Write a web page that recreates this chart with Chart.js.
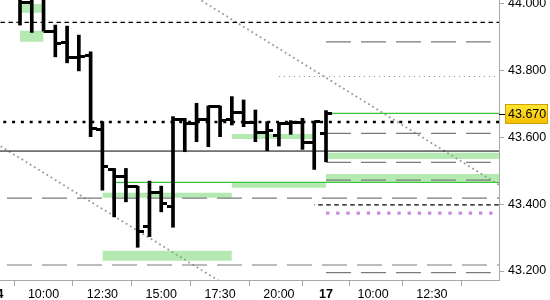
<!DOCTYPE html>
<html>
<head>
<meta charset="utf-8">
<script src="https://cdn.jsdelivr.net/npm/chart.js@4.4.1/dist/chart.umd.min.js"></script>
<style>
  html, body { margin: 0; padding: 0; background: #fff; }
</style>
</head>
<body>
<canvas id="myCanvas" width="550" height="300"></canvas>
<script>
// time is in session hours counted from 08:00 on day 14 (day 17 opens at 14)
const barTimes = [1, 1.5, 2, 2.5, 3, 3.5, 4, 4.5, 5, 5.5, 6, 6.5, 7, 7.5, 8, 8.5, 9, 9.5, 10, 10.5, 11, 11.5, 12, 12.5, 13, 13.5, 14];
const opens  = [44.020, 44.003, 44.020, 43.918, 43.883, 43.840, 43.844, 43.625, 43.504, 43.482, 43.452, 43.333, 43.434, 43.392, 43.654, 43.642, 43.654, 43.692, 43.654, 43.674, 43.644, 43.614, 43.607, 43.642, 43.644, 43.584, 43.611];
const highs  = [44.030, 44.030, 44.040, 43.936, 43.933, 43.906, 43.856, 43.647, 43.507, 43.507, 43.454, 43.469, 43.454, 43.662, 43.657, 43.702, 43.694, 43.694, 43.722, 43.712, 43.682, 43.647, 43.644, 43.650, 43.657, 43.647, 43.680];
const lows   = [43.936, 43.914, 43.918, 43.841, 43.823, 43.799, 43.602, 43.442, 43.362, 43.407, 43.271, 43.303, 43.377, 43.331, 43.557, 43.587, 43.572, 43.602, 43.637, 43.632, 43.587, 43.560, 43.574, 43.609, 43.564, 43.504, 43.527];
const closes = [44.003, 44.020, 43.918, 43.881, 43.840, 43.841, 43.627, 43.512, 43.482, 43.452, 43.318, 43.434, 43.403, 43.654, 43.642, 43.654, 43.692, 43.650, 43.674, 43.644, 43.614, 43.620, 43.642, 43.644, 43.584, 43.647, 43.670];
const lastPrice = 43.670;

const timeTicks  = [2, 4.5, 7, 9.5, 12, 14, 16, 18.5, 21];
const timeLabels = ['10:00', '12:30', '15:00', '17:30', '20:00', '17', '10:00', '12:30', ''];
const dayLabels  = ['14', '17'];
const firstDay = { time: 0, label: '14' }; // sits just left of the view
const priceTicks = [43.2, 43.4, 43.6, 43.8, 44.0];
const timeMin = 0.15, timeMax = 21.35;
const priceMin = 43.1731, priceMax = 44.0111;

// horizontal levels: [price, from, to]
const blackDashed   = [[43.944, 0, 21.35], [43.398, 13.5, 21.35]];
const blackDotted   = [[43.646, 0, 21.35]];
const blackSolid    = [[43.559, 0, 21.35]];
const grayDashedAll = [[43.418, 0, 21.35], [43.218, 0, 21.35]];
const grayDashedNew = [[43.886, 14, 21], [43.612, 14, 21], [43.525, 14, 21], [43.472, 14, 21], [43.195, 14, 21]];
const grayDotted    = [[43.782, 12, 21.2]];
const greenLines    = [[43.465, 5, 21.35], [43.672, 14, 21.35]];
const purpleDotted  = [[43.373, 14, 21.35]];
// trend channel: [fromTime, fromPrice, toTime, toPrice]
const trendLines = [[8, 44.040, 21.35, 43.458], [0, 43.581, 10, 43.147]];
// green zones
const zoneTop    = [43.999, 43.919, 43.434, 43.261, 43.464, 43.610, 43.554, 43.490];
const zoneBottom = [43.973, 43.886, 43.419, 43.231, 43.449, 43.595, 43.535, 43.467];
const zoneFrom   = [1, 1, 4.5, 4.5, 10, 10, 14, 14];
const zoneTo     = [2, 2, 10, 10, 14, 13.5, 21.35, 21.35];

const labelFont = { family: '"Liberation Sans", Arial, sans-serif', size: 12.5 };
const boldFont = Object.assign({ weight: 'bold' }, labelFont);

// small images for the open (left) and close (right) ticks
function makeTick(side) {
  const c = document.createElement('canvas');
  c.width = 12; c.height = 3;
  const g = c.getContext('2d');
  g.fillStyle = '#000';
  g.fillRect(side === 'left' ? 0 : 6, 0, 6, 3);
  return c;
}
const openTick = makeTick('left');
const closeTick = makeTick('right');

function levelSets(list, style) {
  return list.map(l => Object.assign({
    type: 'line',
    data: [{ x: l[1], y: l[0] }, { x: l[2], y: l[0] }],
    pointRadius: 0,
    fill: false,
    order: 1
  }, style));
}

const datasets = [];

datasets.push({
  type: 'bar',
  data: barTimes.map((t, i) => ({ x: t, y: [lows[i], highs[i]] })),
  backgroundColor: '#000',
  barThickness: 3,
  grouped: false,
  order: 0
});
datasets.push({
  type: 'line', showLine: false,
  data: barTimes.map((t, i) => ({ x: t, y: opens[i] })),
  pointStyle: openTick, pointRadius: 6, order: 0
});
datasets.push({
  type: 'line', showLine: false,
  data: barTimes.map((t, i) => ({ x: t, y: closes[i] })),
  pointStyle: closeTick, pointRadius: 6, order: 0
});

datasets.push(...levelSets(blackDashed, { borderColor: '#000', borderWidth: 1.2, borderDash: [4.5, 3.5], borderDashOffset: 4 }));
datasets.push(...levelSets(blackDotted, { borderColor: '#000', borderWidth: 2.6, borderDash: [3, 5.8], borderDashOffset: 2 }));
datasets.push(...levelSets(blackSolid, { borderColor: '#000', borderWidth: 1 }));
datasets.push(...levelSets(grayDashedAll, { borderColor: '#7a7a7a', borderWidth: 1.2, borderDash: [25, 10], borderDashOffset: 24.5 }));
datasets.push(...levelSets(grayDashedNew, { borderColor: '#7a7a7a', borderWidth: 1.2, borderDash: [25, 10] }));
datasets.push(...levelSets(grayDotted, { borderColor: '#8c8c8c', borderWidth: 1, borderDash: [1, 4] }));
datasets.push(...levelSets(greenLines, { borderColor: '#3cc43c', borderWidth: 1.3 }));
datasets.push(...levelSets(purpleDotted, { borderColor: '#c98be0', borderWidth: 3.3, borderDash: [3.3, 6.9] }));

trendLines.forEach(t => {
  datasets.push({
    type: 'line',
    data: [{ x: t[0], y: t[1] }, { x: t[2], y: t[3] }],
    borderColor: '#999',
    borderWidth: 1.8,
    borderDash: [1.8, 3.1],
    pointRadius: 0,
    order: 1
  });
});

zoneTop.forEach((top, i) => {
  datasets.push({
    type: 'line',
    data: [{ x: zoneFrom[i], y: top }, { x: zoneTo[i], y: top }],
    borderWidth: 0,
    pointRadius: 0,
    backgroundColor: 'rgb(180,233,178)',
    fill: { value: zoneBottom[i] },
    order: 2
  });
});

// yellow box with the last price on the right axis, and the cut-off day label on the left
const priceTag = {
  id: 'priceTag',
  afterDraw(chart) {
    const { ctx, chartArea, scales } = chart;
    const py = Math.round(scales.y.getPixelForValue(lastPrice));
    const x0 = chartArea.right;
    ctx.save();
    ctx.strokeStyle = '#000';
    ctx.lineWidth = 1;
    ctx.beginPath();
    ctx.moveTo(x0, py + 0.5);
    ctx.lineTo(x0 + 6, py + 0.5);
    ctx.stroke();
    const grad = ctx.createLinearGradient(0, py - 10, 0, py + 10);
    grad.addColorStop(0, '#ffe735');
    grad.addColorStop(1, '#f4bf00');
    ctx.fillStyle = grad;
    ctx.fillRect(x0 + 6, py - 10, 43, 20);
    ctx.strokeStyle = '#d2a000';
    ctx.strokeRect(x0 + 6.5, py - 9.5, 42, 19);
    ctx.fillStyle = '#000';
    ctx.font = '12.5px "Liberation Sans", Arial, sans-serif';
    ctx.textBaseline = 'middle';
    ctx.fillText(lastPrice.toFixed(3), x0 + 9, py + 1);

    ctx.font = 'bold 12.5px "Liberation Sans", Arial, sans-serif';
    ctx.textAlign = 'center';
    ctx.fillText(firstDay.label, scales.x.getPixelForValue(firstDay.time), scales.x.top + 7 + 7.5);
    ctx.restore();
  }
};

const canvas = document.getElementById('myCanvas');
new Chart(canvas, {
  type: 'line',
  data: { datasets: datasets },
  plugins: [priceTag],
  options: {
    responsive: false,
    animation: false,
    layout: { padding: 0, autoPadding: false },
    plugins: { legend: { display: false }, tooltip: { enabled: false } },
    scales: {
      x: {
        type: 'linear',
        min: timeMin,
        max: timeMax,
        offset: false,
        afterBuildTicks: s => { s.ticks = timeTicks.map(v => ({ value: v })); },
        afterFit: s => { s.height = 20; s.paddingLeft = 0; s.paddingRight = 0; },
        ticks: {
          autoSkip: false,
          maxRotation: 0,
          padding: 1,
          color: '#000',
          callback: (v, i) => timeLabels[i],
          font: ctx => dayLabels.includes(timeLabels[ctx.index]) ? boldFont : labelFont
        },
        grid: { drawOnChartArea: false, tickLength: 6, color: '#a8a8a8' },
        border: { color: '#a8a8a8' }
      },
      y: {
        type: 'linear',
        position: 'right',
        min: priceMin,
        max: priceMax,
        afterBuildTicks: s => { s.ticks = priceTicks.map(v => ({ value: v })); },
        afterFit: s => { s.width = 51; s.paddingTop = 0; s.paddingBottom = 0; },
        ticks: {
          padding: 4,
          color: '#000',
          font: labelFont,
          callback: v => v.toFixed(3)
        },
        grid: { drawOnChartArea: false, tickLength: 5, color: '#a8a8a8' },
        border: { color: '#a8a8a8' }
      }
    }
  }
});
</script>
</body>
</html>
